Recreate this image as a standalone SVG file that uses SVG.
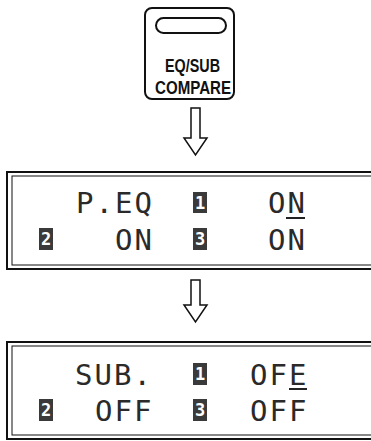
<svg xmlns="http://www.w3.org/2000/svg" width="371" height="441" viewBox="0 0 371 441">
<style>
.ln{fill:none;stroke:#111;}
.btn{font-family:"Liberation Sans",Arial,sans-serif;font-size:19px;font-weight:bold;fill:#111;text-anchor:middle;}
.lcd{font-family:"DejaVu Sans Mono",monospace;font-size:29px;fill:#2a2a2a;letter-spacing:2px;}
.ico{fill:#3a3a3a;}
.icot{font-family:"DejaVu Sans Mono",monospace;font-size:17px;font-weight:bold;fill:#fff;text-anchor:middle;}
.arrow{fill:#fff;stroke:#111;stroke-width:1.5;stroke-linejoin:miter;}
</style>
<rect width="371" height="441" fill="#fff"/>
<g id="button">
  <rect class="ln" x="145" y="8" width="89" height="91" rx="7" stroke-width="2"/>
  <rect class="ln" x="156" y="18" width="70" height="15" rx="7.5" stroke-width="2"/>
  <text class="btn" x="192.5" y="72" textLength="55" lengthAdjust="spacingAndGlyphs">EQ/SUB</text>
  <text class="btn" x="193" y="93.5" textLength="76" lengthAdjust="spacingAndGlyphs">COMPARE</text>
</g>
<g id="connectors">
  <path class="arrow" d="M191,108 H200 V138 H207 L195.5,155 L184,138 H191 Z"/>
  <path class="arrow" d="M191,280 H200 V305 H207 L195.5,322 L184,305 H191 Z"/>
</g>
<g id="panel-peq">
  <rect class="ln" x="7" y="172" width="372" height="97" stroke-width="2"/>
  <rect class="ln" x="12" y="176" width="362" height="89" stroke-width="1"/>
  <text class="lcd" x="76" y="213">P.EQ</text>
  <rect class="ico" x="193" y="192" width="14" height="21"/>
  <text class="icot" x="200" y="208.5">1</text>
  <text class="lcd" x="268" y="213">ON</text>
  <rect x="286" y="217" width="19" height="2" fill="#222"/>
  <rect class="ico" x="39" y="228" width="14" height="22"/>
  <text class="icot" x="46" y="245">2</text>
  <text class="lcd" x="115" y="250">ON</text>
  <rect class="ico" x="193" y="228" width="14" height="22"/>
  <text class="icot" x="200" y="245">3</text>
  <text class="lcd" x="268" y="250">ON</text>
</g>
<g id="panel-sub">
  <rect class="ln" x="7" y="342" width="372" height="97" stroke-width="2"/>
  <rect class="ln" x="12" y="346" width="362" height="89" stroke-width="1"/>
  <text class="lcd" x="75" y="385">SUB.</text>
  <rect class="ico" x="193" y="363" width="14" height="22"/>
  <text class="icot" x="200" y="380">1</text>
  <text class="lcd" x="250" y="385">OFE</text>
  <rect x="289" y="388" width="18" height="2" fill="#222"/>
  <rect class="ico" x="39" y="399" width="14" height="22"/>
  <text class="icot" x="46" y="416">2</text>
  <text class="lcd" x="95" y="421">OFF</text>
  <rect class="ico" x="193" y="399" width="14" height="22"/>
  <text class="icot" x="200" y="416">3</text>
  <text class="lcd" x="250" y="421">OFF</text>
</g>
</svg>
